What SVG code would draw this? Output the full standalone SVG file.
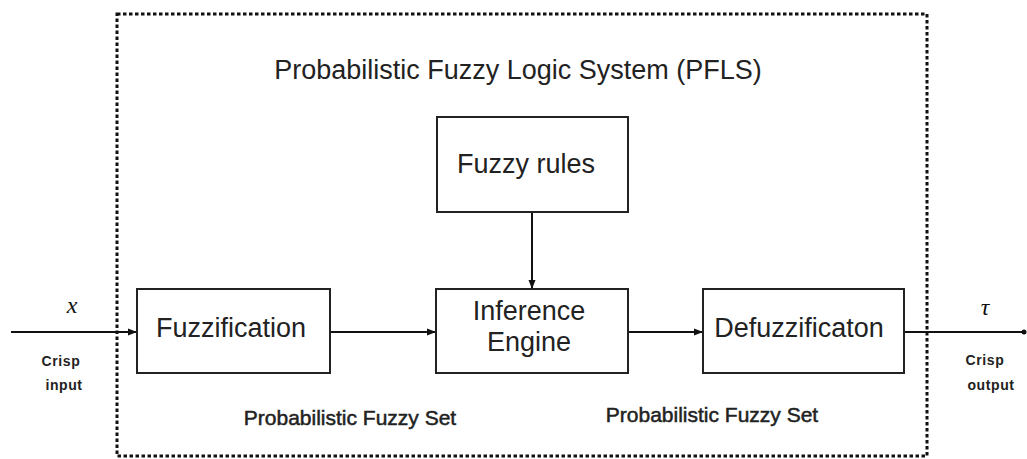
<svg xmlns="http://www.w3.org/2000/svg" width="1027" height="459" viewBox="0 0 1027 459">
  <defs>
    <marker id="arrow" markerWidth="9" markerHeight="8" refX="9" refY="4" orient="auto" markerUnits="userSpaceOnUse">
      <path d="M0,0.5 L9,4 L0,7.5 Z" fill="#111"/>
    </marker>
    <style>
      .box { fill: #fff; stroke: #222; stroke-width: 2; }
      .line { stroke: #111; stroke-width: 2; fill: none; }
      .frame { fill: none; stroke: #111; stroke-width: 3; stroke-dasharray: 3.5 2.5; }
      .big { font-family: "Liberation Sans", Arial, sans-serif; font-size: 27px; fill: #222; }
      .mid { font-family: "Liberation Sans", Arial, sans-serif; font-size: 21px; fill: #222; stroke: #222; stroke-width: 0.5px; }
      .small { font-family: "Liberation Sans", Arial, sans-serif; font-size: 14px; font-weight: bold; fill: #222; letter-spacing: 0.6px; }
      .sym { font-family: "Liberation Serif", "Times New Roman", serif; font-size: 24px; font-style: italic; fill: #111; }
    </style>
  </defs>

  <rect width="1027" height="459" fill="#fff"/>

  <!-- system boundary -->
  <g id="pfls-frame">
    <rect class="frame" x="117" y="14" width="810" height="442"/>
    <text class="big" x="518" y="79" text-anchor="middle" font-size="28">Probabilistic Fuzzy Logic System (PFLS)</text>
  </g>

  <!-- connectors -->
  <g id="connectors">
    <line class="line" x1="11" y1="332" x2="137" y2="332" marker-end="url(#arrow)"/>
    <line class="line" x1="330" y1="332" x2="436" y2="332" marker-end="url(#arrow)"/>
    <line class="line" x1="628" y1="332" x2="703" y2="332" marker-end="url(#arrow)"/>
    <line class="line" x1="532" y1="213" x2="532" y2="289" marker-end="url(#arrow)"/>
    <line class="line" x1="904" y1="332" x2="1025" y2="332"/>
    <circle cx="1024" cy="332" r="2.5" fill="#111"/>
  </g>

  <g id="fuzzy-rules">
    <rect class="box" x="437" y="117" width="191" height="95"/>
    <text class="big" x="526" y="173" text-anchor="middle" font-size="26">Fuzzy rules</text>
  </g>

  <g id="fuzzification">
    <rect class="box" x="137" y="289" width="193" height="84"/>
    <text class="big" x="231" y="337" text-anchor="middle">Fuzzification</text>
  </g>

  <g id="inference-engine">
    <rect class="box" x="436" y="289" width="192" height="84"/>
    <text class="big" x="529" y="320" text-anchor="middle" font-size="26">Inference</text>
    <text class="big" x="529" y="351" text-anchor="middle" font-size="26">Engine</text>
  </g>

  <g id="defuzzification">
    <rect class="box" x="703" y="289" width="201" height="84"/>
    <text class="big" x="799" y="337" text-anchor="middle">Defuzzificaton</text>
  </g>

  <!-- set labels -->
  <g id="set-labels">
    <text class="mid" x="350" y="425" text-anchor="middle">Probabilistic Fuzzy Set</text>
    <text class="mid" x="712" y="422" text-anchor="middle">Probabilistic Fuzzy Set</text>
  </g>

  <!-- input / output labels -->
  <g id="io-labels">
    <text class="sym" x="72" y="313" text-anchor="middle">x</text>
    <text class="small" x="61" y="366" text-anchor="middle">Crisp</text>
    <text class="small" x="64" y="390" text-anchor="middle">input</text>
    <text class="sym" x="985" y="315" text-anchor="middle">τ</text>
    <text class="small" x="985" y="365" text-anchor="middle">Crisp</text>
    <text class="small" x="991" y="390" text-anchor="middle">output</text>
  </g>
</svg>
